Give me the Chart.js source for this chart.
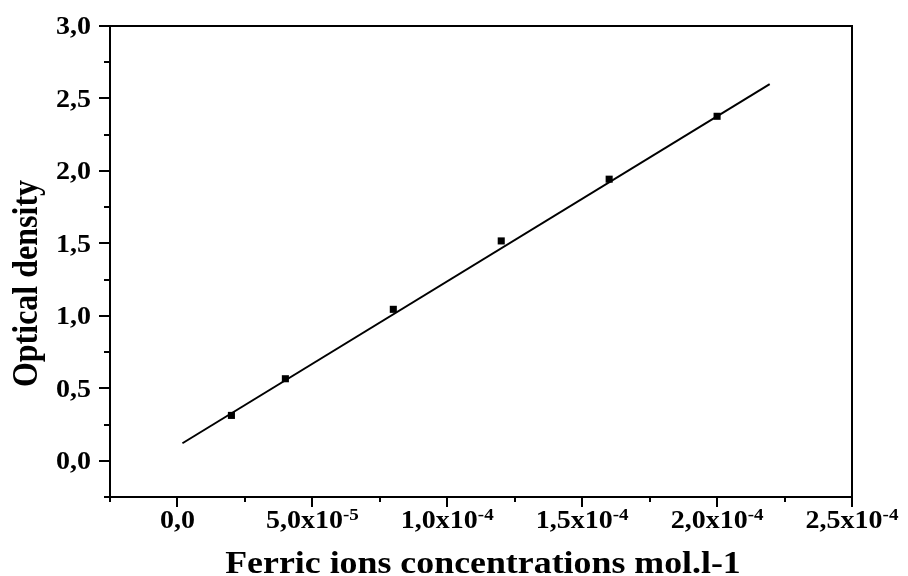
<!DOCTYPE html>
<html>
<head>
<meta charset="utf-8">
<script src="https://cdn.jsdelivr.net/npm/chart.js@4/dist/chart.umd.min.js"></script>
<style>
  html, body { margin: 0; padding: 0; background: #ffffff; }
  canvas { display: block; }
</style>
</head>
<body>
<canvas id="c" width="908" height="576"></canvas>
<script>
// ---- data ----
const concentrations = [2.0e-5, 4.0e-5, 8.0e-5, 1.2e-4, 1.6e-4, 2.0e-4];
const opticalDensity = [0.313, 0.566, 1.045, 1.517, 1.943, 2.377];
const fitX = [1.85e-6, 2.195e-4];
const fitY = [0.121, 2.599];

const yTickValues = [0, 0.5, 1.0, 1.5, 2.0, 2.5, 3.0];
const yTickLabels = ['0,0', '0,5', '1,0', '1,5', '2,0', '2,5', '3,0'];
const xTickValues = [0, 5e-5, 1e-4, 1.5e-4, 2e-4, 2.5e-4];
const xTickBase = ['0,0', '5,0x10', '1,0x10', '1,5x10', '2,0x10', '2,5x10'];
const xTickExp = ['', '-5', '-4', '-4', '-4', '-4'];

const xTitle = 'Ferric ions concentrations mol.l-1';
const yTitle = 'Optical density';

// ---- styling ----
const FAMILY = "'Liberation Serif', 'Times New Roman', serif";
const SX = 1.12;        // horizontal stretch of the original lettering
const TICK_FONT = 25;
const SUP_FONT = 17;
const TITLE_FONT = 32;

function stretchedText(ctx, text, x, y, align, size) {
  ctx.save();
  ctx.font = 'bold ' + size + 'px ' + FAMILY;
  ctx.textAlign = align;
  ctx.textBaseline = 'alphabetic';
  ctx.translate(x, y);
  ctx.scale(SX, 1);
  ctx.fillText(text, 0, 0);
  ctx.restore();
}

const framePlugin = {
  id: 'framePlugin',
  afterDraw(chart) {
    const ctx = chart.ctx;
    const a = chart.chartArea;
    const xs = chart.scales.x, ys = chart.scales.y;
    ctx.save();
    ctx.strokeStyle = '#000';
    ctx.fillStyle = '#000';
    ctx.lineWidth = 2;
    ctx.lineCap = 'square';
    // frame
    ctx.strokeRect(a.left, a.top, a.right - a.left, a.bottom - a.top);
    ctx.lineCap = 'butt';
    // x ticks (major every 5e-5, minor in between)
    xs.ticks.forEach(t => {
      const k = Math.round(t.value / 2.5e-5);
      const px = Math.round(xs.getPixelForValue(t.value));
      const len = (k % 2 === 0) ? 10 : 5;
      ctx.beginPath();
      ctx.moveTo(px, a.bottom);
      ctx.lineTo(px, a.bottom + len);
      ctx.stroke();
    });
    // y ticks (major every 0.5, minor in between)
    ys.ticks.forEach(t => {
      const k = Math.round(t.value / 0.25);
      const py = Math.round(ys.getPixelForValue(t.value));
      const len = (k % 2 === 0) ? 11 : 6;
      ctx.beginPath();
      ctx.moveTo(a.left, py);
      ctx.lineTo(a.left - len, py);
      ctx.stroke();
    });
    // y tick labels
    yTickValues.forEach((v, i) => {
      const py = ys.getPixelForValue(v);
      stretchedText(ctx, yTickLabels[i], a.left - 19, py + 8.3, 'right', TICK_FONT);
    });
    // x tick labels with superscript exponents
    xTickValues.forEach((v, i) => {
      const px = xs.getPixelForValue(v);
      ctx.font = 'bold ' + TICK_FONT + 'px ' + FAMILY;
      const w1 = ctx.measureText(xTickBase[i]).width;
      ctx.font = 'bold ' + SUP_FONT + 'px ' + FAMILY;
      const w2 = xTickExp[i] ? ctx.measureText(xTickExp[i]).width : 0;
      const total = (w1 + w2) * SX;
      const left = px - total / 2;
      const base = a.bottom + 31;
      ctx.save();
      ctx.translate(left, base);
      ctx.scale(SX, 1);
      ctx.textAlign = 'left';
      ctx.textBaseline = 'alphabetic';
      ctx.font = 'bold ' + TICK_FONT + 'px ' + FAMILY;
      ctx.fillText(xTickBase[i], 0, 0);
      if (xTickExp[i]) {
        ctx.font = 'bold ' + SUP_FONT + 'px ' + FAMILY;
        ctx.fillText(xTickExp[i], w1, -8);
      }
      ctx.restore();
    });
    // x title
    stretchedText(ctx, xTitle, (a.left + a.right) / 2 + 2, 573, 'center', TITLE_FONT);
    // y title (rotated)
    ctx.save();
    ctx.font = 'bold ' + TITLE_FONT + 'px ' + FAMILY;
    ctx.textAlign = 'center';
    ctx.textBaseline = 'alphabetic';
    ctx.translate(36.5, 283.5);
    ctx.scale(SX, 1);
    ctx.rotate(-Math.PI / 2);
    ctx.fillText(yTitle, 0, 0);
    ctx.restore();
    ctx.restore();
  }
};

const measured = concentrations.map((c, i) => ({ x: c, y: opticalDensity[i] }));
const fitted = fitX.map((c, i) => ({ x: c, y: fitY[i] }));

new Chart(document.getElementById('c'), {
  type: 'scatter',
  data: {
    datasets: [
      {
        label: 'Linear fit',
        data: fitted,
        showLine: true,
        borderColor: '#000',
        borderWidth: 2,
        pointRadius: 0,
        fill: false
      },
      {
        label: 'Optical density',
        data: measured,
        pointStyle: 'rect',
        pointRadius: 5,
        backgroundColor: '#000',
        borderColor: '#000',
        borderWidth: 0,
        showLine: false
      }
    ]
  },
  options: {
    responsive: false,
    animation: false,
    devicePixelRatio: 1,
    layout: { padding: { top: 26, right: 56, left: 0, bottom: 0 } },
    plugins: { legend: { display: false }, tooltip: { enabled: false } },
    scales: {
      x: {
        type: 'linear',
        position: 'bottom',
        min: -2.5e-5,
        max: 2.5e-4,
        ticks: { display: false, stepSize: 2.5e-5 },
        grid: { display: false },
        border: { display: false },
        afterFit(scale) { scale.height = 79; }
      },
      y: {
        type: 'linear',
        position: 'left',
        min: -0.25,
        max: 3.0,
        ticks: { display: false, stepSize: 0.25 },
        grid: { display: false },
        border: { display: false },
        afterFit(scale) { scale.width = 110; }
      }
    }
  },
  plugins: [framePlugin]
});
</script>
</body>
</html>
